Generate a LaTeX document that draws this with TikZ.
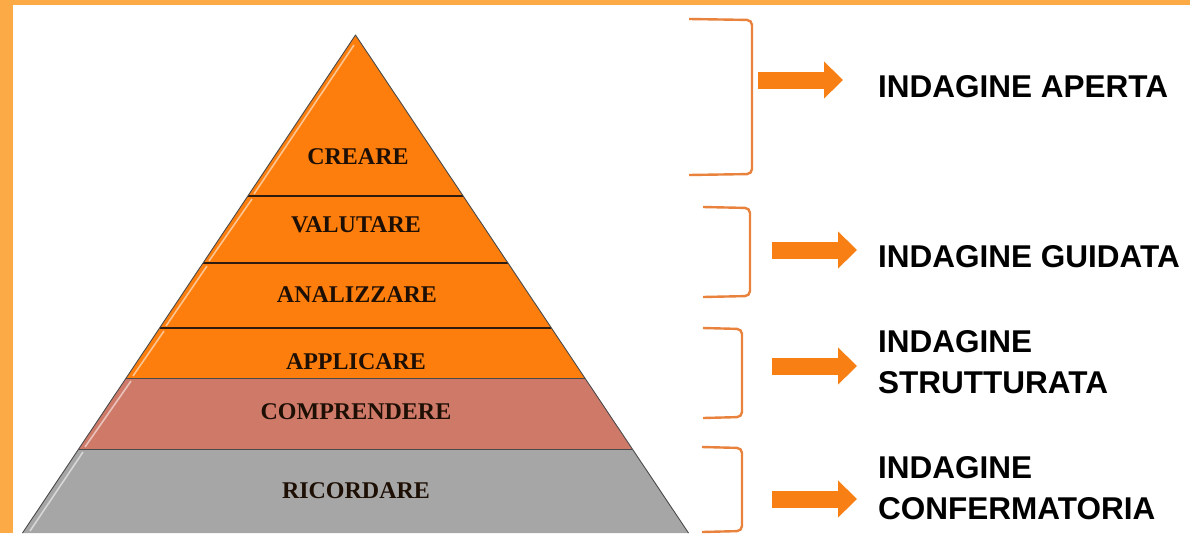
\documentclass[tikz,border=0pt]{standalone}
\usepackage{fontspec}
\setmainfont{Liberation Serif}
\newfontfamily\labelsans{Liberation Sans}
\usetikzlibrary{arrows.meta}
\definecolor{framecol}{HTML}{FCAA45}
\definecolor{orangefill}{HTML}{FD7E0C}
\definecolor{salmonfill}{HTML}{CF7A69}
\definecolor{grayfill}{HTML}{A6A6A6}
\definecolor{layerline}{HTML}{2E1C10}
\definecolor{edgecol}{HTML}{4A4A4A}
\definecolor{bracketcol}{HTML}{E8823C}
\definecolor{arrowcol}{HTML}{F77F14}
\definecolor{levtext}{HTML}{1E0F05}
\tikzset{
  layer/.style={draw=none},
  sepline/.style={draw=layerline, line width=1.2pt},
  highlight/.style={draw=white, draw opacity=0.55, line width=1.6pt},
  level/.style={font=\fontsize{24}{27}\selectfont\bfseries, text=levtext, inner sep=0pt},
  kind/.style={font=\labelsans\fontsize{31.5}{41}\selectfont\bfseries, text=black, inner sep=0pt, align=left},
  bracket/.style={draw=bracketcol, line width=2.4pt, rounded corners=5pt},
  blockarrow/.style={draw=arrowcol, line width=17pt, -{Triangle[length=19pt,width=36pt]}}
}
\begin{document}
\begin{tikzpicture}[x=1pt,y=-1pt]
\useasboundingbox (0,0) rectangle (1190,533);
% frame
\fill[framecol] (0,0) rectangle (1190,533);
\fill[white] (13,5) rectangle (1190,533);
% layers
\fill[orangefill] (355.5,35) -- (463.2,196) -- (247.8,196) -- cycle;
\fill[orangefill] (247.8,196) -- (463.2,196) -- (508.0,263) -- (203.0,263) -- cycle;
\fill[orangefill] (203.0,263) -- (508.0,263) -- (551.4,328) -- (159.6,328) -- cycle;
\fill[orangefill] (159.6,328) -- (551.4,328) -- (584.8,378) -- (126.2,378) -- cycle;
\fill[salmonfill] (126.2,378) -- (584.8,378) -- (632.3,449) -- (78.7,449) -- cycle;
\fill[grayfill] (78.7,449) -- (632.3,449) -- (688.5,533) -- (22.5,533) -- cycle;
% highlights along left edge
\draw[highlight] (354,45) -- (254,194);
\draw[highlight] (252,199) -- (209,261);
\draw[highlight] (207,266) -- (166,326);
\draw[highlight] (164,331) -- (133,376);
\draw[highlight] (131,381) -- (85,447);
\draw[highlight] (83,452) -- (30,531);
% separators
\draw[sepline] (247.8,196) -- (463.2,196);
\draw[sepline] (203.0,263) -- (508.0,263);
\draw[sepline] (159.6,328) -- (551.4,328);
\draw[draw=edgecol, line width=1pt] (126.2,378) -- (584.8,378);
\draw[draw=edgecol, line width=1pt] (78.7,449) -- (632.3,449);
% outline
\draw[draw=edgecol, line width=0.9pt, line join=round] (22.5,533) -- (355.5,35) -- (688.5,533);
% level labels
\node[level] (crea) at (358,157) {CREARE};
\node[level] (valu) at (356,225) {VALUTARE};
\node[level] (anal) at (357,295) {ANALIZZARE};
\node[level] (appl) at (356,362) {APPLICARE};
\node[level] (comp) at (356,412) {COMPRENDERE};
\node[level] (rico) at (356,491) {RICORDARE};
% brackets
\draw[bracket] (689,19) -- (752,20) -- (752,174) -- (689,175);
\draw[bracket] (703,207) -- (750,208) -- (750,296) -- (703,297);
\draw[bracket] (703,328) -- (742,329) -- (742,417) -- (703,418);
\draw[bracket] (702,447) -- (742,448) -- (742,531) -- (702,532);
% labels on the right
\node[kind, anchor=base west] (k1) at (878,97) {INDAGINE APERTA};
\node[kind, anchor=base west] (k2) at (878,267) {INDAGINE GUIDATA};
\node[kind, anchor=base west] (k3a) at (878,352) {INDAGINE};
\node[kind, anchor=base west] (k3b) at (878,393) {STRUTTURATA};
\node[kind, anchor=base west] (k4a) at (878,478) {INDAGINE};
\node[kind, anchor=base west] (k4b) at (878,519) {CONFERMATORIA};
% arrows
\coordinate (a1s) at (758,80);  \coordinate (a1e) at (843,80);
\coordinate (a2s) at (772,250); \coordinate (a2e) at (857,250);
\coordinate (a3s) at (772,366); \coordinate (a3e) at (857,366);
\coordinate (a4s) at (772,499); \coordinate (a4e) at (857,499);
\draw[blockarrow] (a1s) -- (a1e);
\draw[blockarrow] (a2s) -- (a2e);
\draw[blockarrow] (a3s) -- (a3e);
\draw[blockarrow] (a4s) -- (a4e);
\end{tikzpicture}
\end{document}
